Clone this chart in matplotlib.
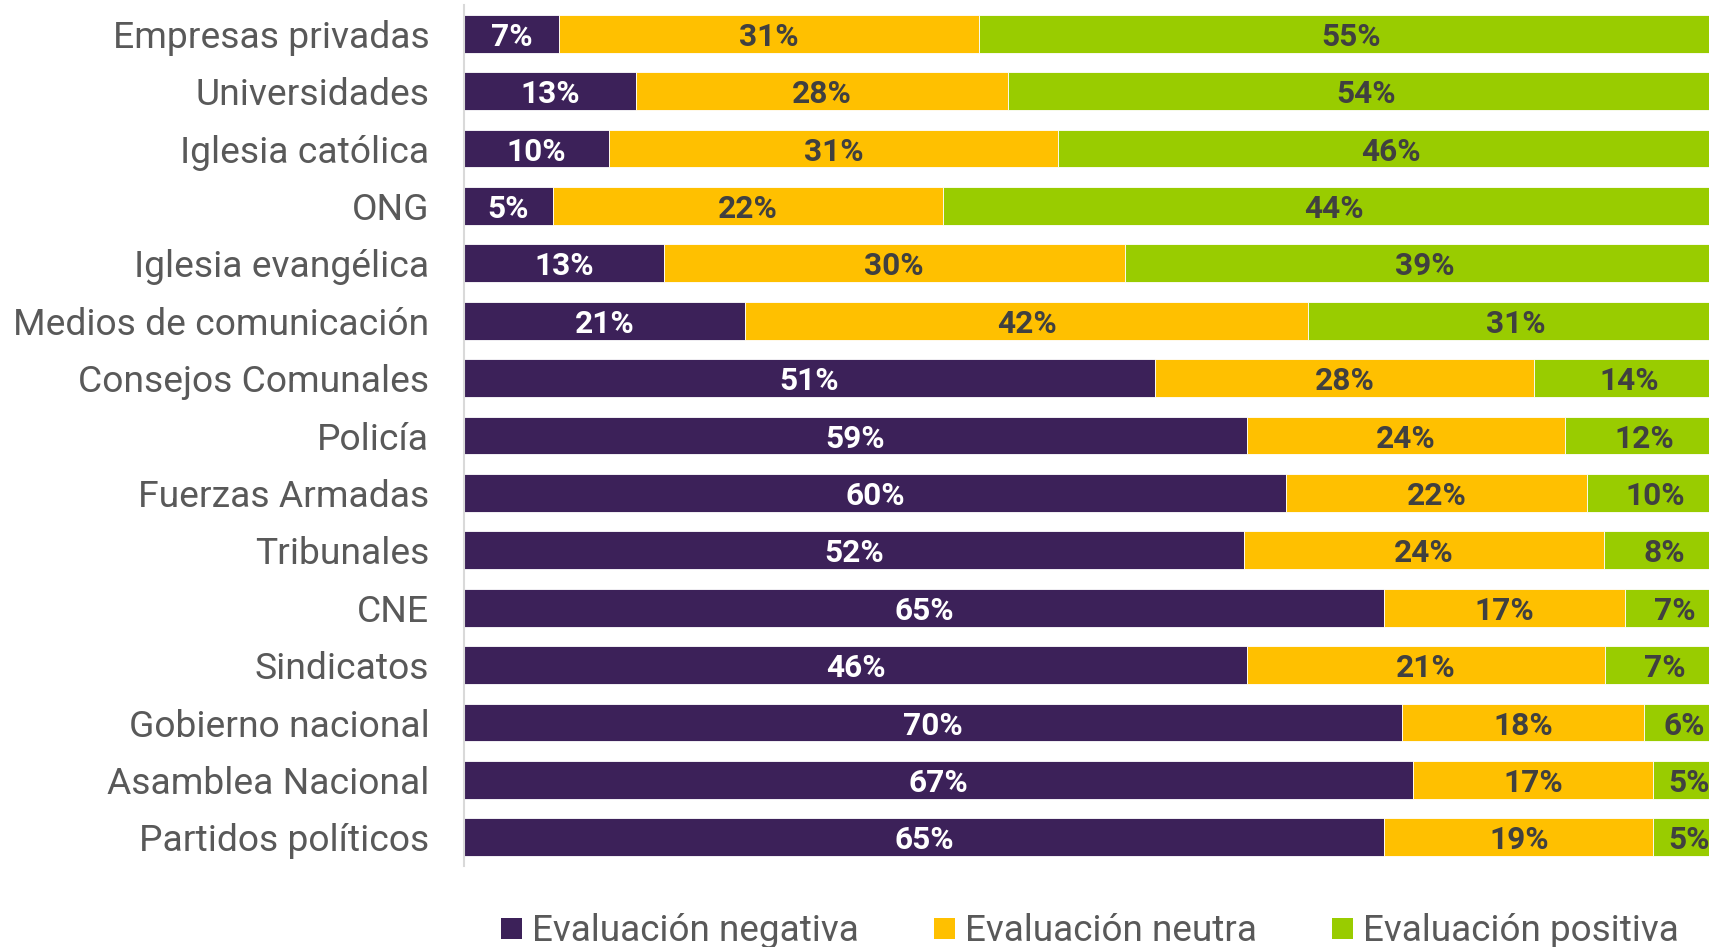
import numpy as np
import matplotlib.pyplot as plt
from matplotlib.patches import Patch

plt.rcParams['font.family'] = ['Roboto', 'DejaVu Sans']

categories = ['Empresas privadas', 'Universidades', 'Iglesia católica', 'ONG',
              'Iglesia evangélica', 'Medios de comunicación', 'Consejos Comunales',
              'Policía', 'Fuerzas Armadas', 'Tribunales', 'CNE', 'Sindicatos',
              'Gobierno nacional', 'Asamblea Nacional', 'Partidos políticos']
negativa = [7, 13, 10, 5, 13, 21, 51, 59, 60, 52, 65, 46, 70, 67, 65]
neutra = [31, 28, 31, 22, 30, 42, 28, 24, 22, 24, 17, 21, 18, 17, 19]
positiva = [55, 54, 46, 44, 39, 31, 14, 12, 10, 8, 7, 7, 6, 5, 5]
series_names = ['Evaluación negativa', 'Evaluación neutra', 'Evaluación positiva']

colors = ['#3C2159', '#FFC000', '#99CC00']
label_colors = ['white', '#404040', '#404040']

data = np.array([negativa, neutra, positiva], dtype=float)
totals = data.sum(axis=0)
shares = data / totals * 100  # 100% stacked

fig = plt.figure(figsize=(17.09, 9.47), dpi=100)
# axes runs a little past the right edge, as in the cropped original
ax = fig.add_axes([0.2715, 0.0855, 0.7373, 0.9092])

y = np.arange(len(categories))
left = np.zeros(len(categories))
for i in range(3):
    bars = ax.barh(y, shares[i], left=left, height=0.66, color=colors[i],
                   edgecolor='white', linewidth=0.6)
    for j, b in enumerate(bars):
        ax.text(b.get_x() + b.get_width() / 2, b.get_y() + b.get_height() / 2,
                f'{int(data[i, j])}%', ha='center', va='center_baseline',
                fontsize=22.8, fontweight='bold', color=label_colors[i])
    left += shares[i]

ax.set_xlim(0, 100)
ax.set_ylim(len(categories) - 0.5, -0.5)
ax.set_yticks(y)
ax.set_yticklabels(categories, fontsize=26.8, color='#595959')
ax.tick_params(axis='y', length=0, pad=25)
ax.set_xticks([])
for s in ['top', 'right', 'bottom']:
    ax.spines[s].set_visible(False)
ax.spines['left'].set_color('#D9D9D9')
ax.spines['left'].set_linewidth(1.5)

handles = [Patch(facecolor=c) for c in colors]
leg = fig.legend(handles, series_names, loc='center left',
                 bbox_to_anchor=(0.2932, 0.0165), ncol=3, frameon=False,
                 fontsize=26.6, handlelength=0.57, handleheight=0.5,
                 handletextpad=0.27, columnspacing=2.03,
                 borderpad=0, borderaxespad=0)
for t in leg.get_texts():
    t.set_color('#595959')

fig.savefig('out.png', dpi=100)
